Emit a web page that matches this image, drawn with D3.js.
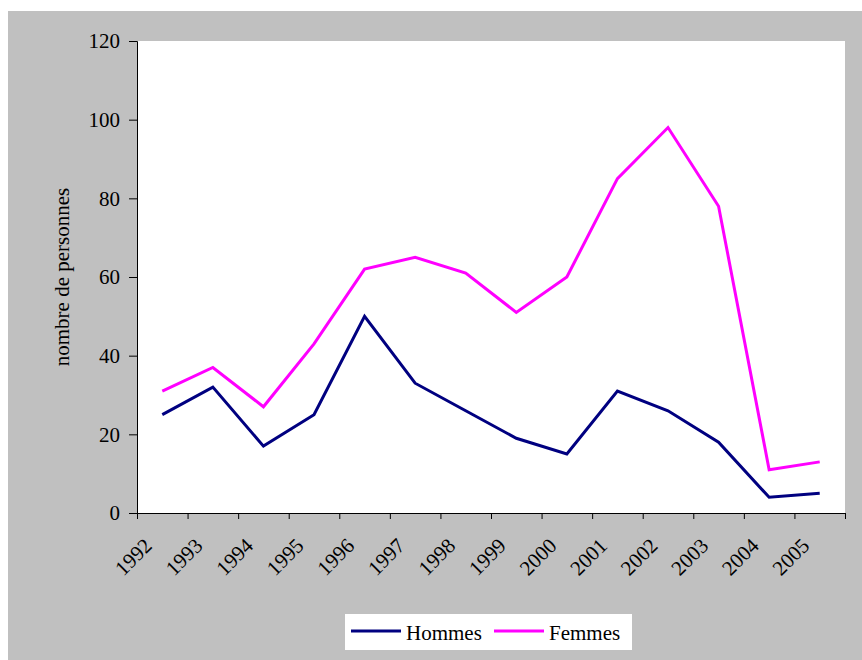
<!DOCTYPE html>
<html>
<head>
<meta charset="utf-8">
<script src="https://cdn.jsdelivr.net/npm/d3@7"></script>
<style>
  html, body { margin: 0; padding: 0; background: #ffffff; }
  svg { display: block; }
</style>
</head>
<body>
<svg id="chart" width="862" height="660"></svg>
<script>
const years = ["1992","1993","1994","1995","1996","1997","1998","1999","2000","2001","2002","2003","2004","2005"];
const hommes = [25, 32, 17, 25, 50, 33, 26, 19, 15, 31, 26, 18, 4, 5];
const femmes = [31, 37, 27, 43, 62, 65, 61, 51, 60, 85, 98, 78, 11, 13];
const yTicks = [0, 20, 40, 60, 80, 100, 120];
const seriesNames = ["Hommes", "Femmes"];
const seriesColors = ["#000080", "#ff00ff"];
const yTitle = "nombre de personnes";

const FONT = "'Liberation Serif', 'DejaVu Serif', serif";
const svg = d3.select("#chart").attr("font-family", FONT);
const W = 862, H = 660;
const plot = {left: 137, right: 845, top: 41, bottom: 513};
const fs = 21;

svg.append("rect").attr("x", 8).attr("y", 11).attr("width", W - 8).attr("height", H - 11).attr("fill", "#c0c0c0");
svg.append("rect").attr("x", plot.left).attr("y", plot.top)
  .attr("width", plot.right - plot.left).attr("height", plot.bottom - plot.top).attr("fill", "#ffffff");

const x = d3.scaleBand().domain(years).range([plot.left, plot.right]).paddingInner(0).paddingOuter(0);
const y = d3.scaleLinear().domain([0, 120]).range([plot.bottom, plot.top]);

const yAxis = d3.axisLeft(y).tickValues(yTicks).tickSize(8).tickPadding(9).tickFormat(d3.format("d"));
const gy = svg.append("g").attr("transform", `translate(${plot.left},0)`).call(yAxis)
  .attr("font-family", FONT).attr("font-size", fs);
gy.select(".domain").attr("stroke", "#000");
gy.selectAll(".tick line").attr("stroke", "#000");
gy.selectAll(".tick text").attr("fill", "#000");

const xb = d3.scaleLinear().domain([0, years.length]).range([plot.left, plot.right]);
const xAxis = d3.axisBottom(xb).tickValues(d3.range(0, years.length + 1)).tickSize(6).tickSizeOuter(0).tickFormat("");
const gx = svg.append("g").attr("transform", `translate(0,${plot.bottom})`).call(xAxis);
gx.select(".domain").attr("stroke", "#000");
gx.selectAll(".tick line").attr("stroke", "#000");

svg.append("g").attr("font-family", FONT).attr("font-size", fs)
  .selectAll("text").data(years).join("text")
  .attr("transform", d => `translate(${x(d) + x.bandwidth() / 2 - 9},${plot.bottom + 34}) rotate(-45)`)
  .attr("text-anchor", "end")
  .text(d => d);

svg.append("text")
  .attr("transform", `translate(69,${(plot.top + plot.bottom) / 2}) rotate(-90)`)
  .attr("text-anchor", "middle")
  .attr("font-family", FONT).attr("font-size", fs)
  .text(yTitle);

const line = d3.line().x((d, i) => x(years[i]) + x.bandwidth() / 2).y(d => y(d));
[hommes, femmes].forEach((s, k) => {
  svg.append("path").datum(s).attr("d", line)
    .attr("fill", "none").attr("stroke", seriesColors[k]).attr("stroke-width", 3);
});

const lg = svg.append("g").attr("font-family", FONT).attr("font-size", fs);
lg.append("rect").attr("x", 345).attr("y", 614).attr("width", 287).attr("height", 36).attr("fill", "#ffffff");
const legendX = [351, 494];
seriesNames.forEach((n, k) => {
  lg.append("line").attr("x1", legendX[k]).attr("x2", legendX[k] + 50).attr("y1", 631).attr("y2", 631)
    .attr("stroke", seriesColors[k]).attr("stroke-width", 3);
  lg.append("text").attr("x", legendX[k] + 55).attr("y", 640).text(n);
});
</script>
</body>
</html>
